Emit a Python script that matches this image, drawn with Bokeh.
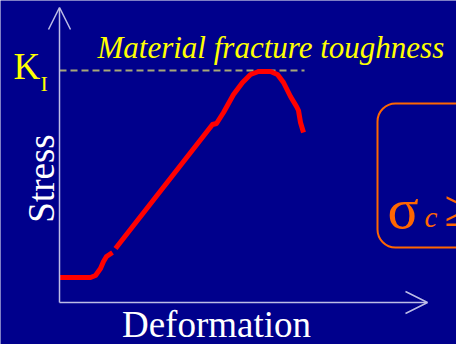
import math
from bokeh.plotting import figure
from bokeh.models import Range1d, Label, Arrow, OpenHead, BoxAnnotation
from bokeh.embed import file_html
from bokeh.resources import INLINE

# --- data (arbitrary deformation / stress units, origin at axes corner) ---
seg1_deformation = [0, 31, 36, 41, 44, 47, 53]
seg1_stress = [25, 25, 27, 34, 41, 46, 50]
seg2_deformation = [56, 153, 157, 164, 174, 183, 191, 199, 211, 218, 224, 231, 237, 239, 241, 244]
seg2_stress = [54, 178, 179, 190, 208, 220, 228, 231, 231, 228, 220, 206, 196, 192, 180, 170]
k_ic_level = 232
k_ic_line_x = [0, 245]
x_axis_end = 368
y_axis_end = 295

BG = "#00008C"
AXIS = "#BDBDE6"
YELLOW = "#FFFF00"
ORANGE = "#FF6600"
SERIF = "Liberation Serif"

p = figure(width=456, height=344, output_backend="svg", toolbar_location=None,
           x_range=Range1d(-59, 397), y_range=Range1d(-42, 302),
           x_axis_location=None, y_axis_location=None, min_border=0)
p.grid.visible = False
p.outline_line_color = None
p.background_fill_color = BG
p.border_fill_color = BG

# axes with open arrow heads
p.add_layout(Arrow(end=OpenHead(size=22, line_color=AXIS, line_width=1.5),
                   x_start=0, y_start=0, x_end=0, y_end=y_axis_end,
                   line_color=AXIS, line_width=1.5))
p.add_layout(Arrow(end=OpenHead(size=22, line_color=AXIS, line_width=1.5),
                   x_start=0, y_start=0, x_end=x_axis_end, y_end=0,
                   line_color=AXIS, line_width=1.5))

# K_IC dashed level
p.line(k_ic_line_x, [k_ic_level, k_ic_level], line_color="#A8A878",
       line_width=2, line_dash="7 4")

# stress-deformation curve
for xs, ys in ((seg1_deformation, seg1_stress), (seg2_deformation, seg2_stress)):
    p.line(xs, ys, line_color="#FF0000", line_width=5, line_join="round")

# orange rounded box
p.add_layout(BoxAnnotation(left=318, right=470, bottom=55, top=199,
                           fill_alpha=0, line_color=ORANGE, line_alpha=1.0,
                           line_width=2, border_radius=18))

# texts
def lab(x, y, text, size, color, **kw):
    p.add_layout(Label(x=x, y=y, text=text, text_font=SERIF, text_font_size=size,
                       text_color=color, text_baseline="alphabetic", **kw))

lab(-46, 236, "K", "37px", YELLOW)
lab(-19, 219, "I", "22px", YELLOW)
lab(38, 255, "Material fracture toughness", "31px", YELLOW, text_font_style="italic")
lab(-18, 124, "Stress", "37px", "white", angle=math.pi / 2, text_align="center")
lab(157, -22, "Deformation", "37px", "white", text_align="center")
lab(328, 94, "σ", "58px", ORANGE)
lab(365, 86, "c", "29px", ORANGE, text_font_style="italic")
lab(385, 94, "≥", "52px", ORANGE)

open("out.html", "w").write(file_html(p, INLINE))
